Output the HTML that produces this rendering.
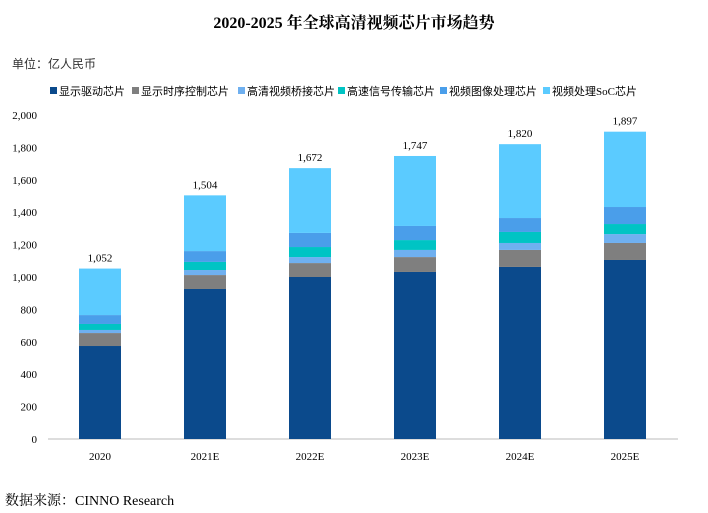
<!DOCTYPE html>
<html><head><meta charset="utf-8"><style>
body{margin:0;background:#fff;width:708px;height:513px;overflow:hidden;font-family:"Liberation Serif","Noto Serif CJK SC",serif}
</style></head><body>
<svg id="chart" width="708" height="513" style="position:absolute;left:0;top:0">
<text x="354" y="28" text-anchor="middle" font-size="16" font-weight="bold" fill="#000">2020-2025 年全球高清视频芯片市场趋势</text>
<text x="12" y="68" font-size="12" fill="#333" font-family="Liberation Sans, Noto Sans CJK SC, sans-serif">单位：亿人民币</text>
<text x="5" y="505" font-size="14" fill="#000" font-family="Liberation Serif, Noto Serif CJK SC, serif">数据来源：CINNO Research</text>
<g id="legend"></g><g id="axes"></g><g id="bars"></g>
</svg>
<script>
const categories=["2020","2021E","2022E","2023E","2024E","2025E"];
const seriesNames=["显示驱动芯片","显示时序控制芯片","高清视频桥接芯片","高速信号传输芯片","视频图像处理芯片","视频处理SoC芯片"];
const colors=["#0B4A8C","#7F7F7F","#6FB0F0","#00C4C4","#4A9EEA","#5BCBFF"];
const s0=[574,926,1000,1031,1062,1105];
const s1=[80,86,86,92,105,105];
const s2=[19,31,37,44,43,55];
const s3=[37,50,62,61,68,62];
const s4=[55,67,87,87,86,105];
const s5=[287,344,400,432,456,465];
const totals=[1052,1504,1672,1747,1820,1897];
const yTicks=[0,200,400,600,800,1000,1200,1400,1600,1800,2000];
const series=[s0,s1,s2,s3,s4,s5];
const NS="http://www.w3.org/2000/svg";
const y0=439,yTop=115,yMax=2000;
const y=v=>y0-v/yMax*(y0-yTop);
const x=i=>48+105*i+52;
function mk(t,a,p){const e=document.createElementNS(NS,t);for(const k in a)e.setAttribute(k,a[k]);p.appendChild(e);return e;}
const axes=document.getElementById('axes');
const bars=document.getElementById('bars');
const legend=document.getElementById('legend');
yTicks.forEach(v=>{
 const t=mk('text',{x:37,y:y(v)+4,'text-anchor':'end','font-size':11,fill:'#000'},axes);
 
 
 t.textContent=v.toLocaleString('en-US');
});
const al=mk('line',{x1:48,x2:678,y1:y0,y2:y0,stroke:'#bbb','stroke-width':1},axes);


categories.forEach((c,i)=>{
 const t=mk('text',{x:x(i),y:460,'text-anchor':'middle','font-size':11,fill:'#000'},axes);
 
 
 t.textContent=c;
 let cum=0;
 series.forEach((s,k)=>{
  const r=mk('rect',{x:x(i)-21,width:42,y:y(cum+s[i]),height:y(cum)-y(cum+s[i]),fill:colors[k]},bars);
  
  
  cum+=s[i];
 });
 const tl=mk('text',{x:x(i),y:y(totals[i])-7,'text-anchor':'middle','font-size':11,fill:'#000'},bars);
 
 
 tl.textContent=totals[i].toLocaleString('en-US');
});
const lx=[50,132,238,338,440,543];
seriesNames.forEach((n,k)=>{
 const g=mk('g',{},legend);
 
 
 mk('rect',{x:lx[k],y:87,width:7,height:7,fill:colors[k]},g);
 const t=mk('text',{x:lx[k]+9,y:95,'font-size':11,fill:'#000','font-family':'Liberation Serif, Noto Sans CJK SC, serif'},g);
 t.textContent=n;
});
</script>
</body></html>
